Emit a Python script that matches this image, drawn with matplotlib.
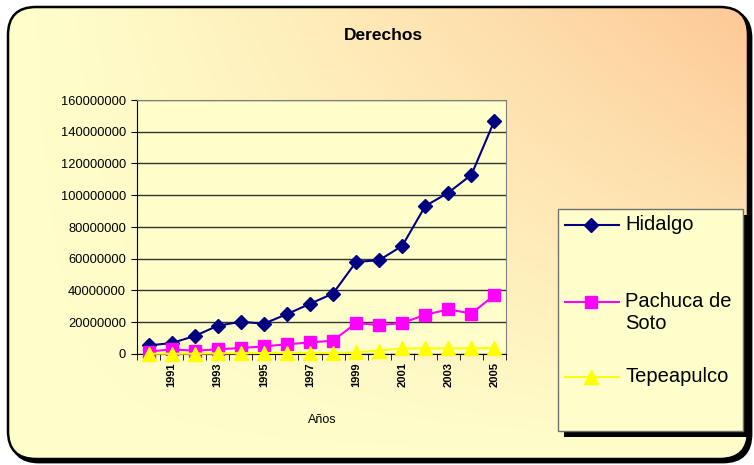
import numpy as np
import matplotlib.pyplot as plt
from matplotlib.patches import FancyBboxPatch, Rectangle
from matplotlib.lines import Line2D

plt.rcParams["font.family"] = ["Liberation Sans", "DejaVu Sans"]

years = ["1990", "1991", "1992", "1993", "1994", "1995", "1996", "1997",
         "1998", "1999", "2000", "2001", "2002", "2003", "2004", "2005"]
hidalgo = [5.4e6, 6.9e6, 11.3e6, 17.8e6, 20.3e6, 19.1e6, 25.1e6, 31.6e6,
           38.1e6, 58.0e6, 59.1e6, 68.1e6, 93.2e6, 101.6e6, 112.9e6, 147.0e6]
pachuca = [1.5e6, 2.9e6, 2.1e6, 2.9e6, 3.8e6, 4.8e6, 6.1e6, 7.3e6,
           8.4e6, 19.5e6, 18.2e6, 19.5e6, 24.7e6, 28.1e6, 25.5e6, 37.1e6]
tepeapulco = [0.2e6, 0.2e6, 0.2e6, 0.4e6, 0.5e6, 0.6e6, 0.7e6, 0.6e6,
              0.5e6, 1.0e6, 2.2e6, 3.5e6, 3.6e6, 3.6e6, 3.6e6, 3.7e6]
names = ["Hidalgo", "Pachuca de\nSoto", "Tepeapulco"]
yticks = [0, 20000000, 40000000, 60000000, 80000000, 100000000,
          120000000, 140000000, 160000000]

navy = "#000080"
magenta = "#FF00FF"
yellow = "#FFFF00"
paper = "#FFFFCC"

W, H = 754, 465
fig = plt.figure(figsize=(W / 100, H / 100), dpi=100)
fig.patch.set_facecolor("white")

# background panel: rounded frame with gradient fill
bg = fig.add_axes([0, 0, 1, 1])
bg.set_xlim(0, W)
bg.set_ylim(0, H)
bg.axis("off")
shadow = FancyBboxPatch((11, 3), 740, 452, boxstyle="round,pad=0,rounding_size=28",
                        facecolor="black", edgecolor="black", lw=2)
bg.add_patch(shadow)
frame = FancyBboxPatch((8, 6), 740, 452, boxstyle="round,pad=0,rounding_size=28",
                       facecolor="none", edgecolor="black", lw=1.8, zorder=3)
bg.add_patch(frame)
xx, yy = np.meshgrid(np.linspace(0, 1, 300), np.linspace(0, 1, 200))
t = np.clip(xx, 0, 1) ** 1.2 * np.clip(yy, 0, 1) ** 0.9
c0 = np.array([255, 255, 204]) / 255
c1 = np.array([253, 200, 150]) / 255
grad = c0 + (c1 - c0) * t[..., None]
im = bg.imshow(grad, extent=[8, 748, 6, 458], origin="lower", aspect="auto", zorder=2)
clip = FancyBboxPatch((8, 6), 740, 452, boxstyle="round,pad=0,rounding_size=28",
                      facecolor="none", edgecolor="none", transform=bg.transData)
bg.add_patch(clip)
im.set_clip_path(clip)

fig.text(383 / W, 1 - 35 / H, "Derechos", ha="center", va="center",
         fontsize=12.5, fontweight="bold")

# plot area
ax = fig.add_axes([137 / W, 1 - 354 / H, 369 / W, 254 / H])
ax.set_facecolor(paper)
x = np.arange(len(years))
ax.plot(x, hidalgo, color=navy, lw=1.5, marker="D", ms=7, mec=navy, zorder=3, clip_on=False)
ax.plot(x, pachuca, color=magenta, lw=1.5, marker="s", ms=8, mec=magenta, zorder=4, clip_on=False)
ax.plot(x, tepeapulco, color=yellow, lw=1.5, marker="^", ms=10, mec=yellow, zorder=5, clip_on=False)
ax.set_xlim(-0.5, len(years) - 0.5)
ax.set_ylim(0, 160000000)
ax.set_yticks(yticks)
ax.set_yticklabels([str(v) for v in yticks], fontsize=9.3)
ax.yaxis.grid(True, color="#333333", lw=1)
ax.set_axisbelow(True)
for s in ["top", "right"]:
    ax.spines[s].set_color("#808080")
ax.spines["left"].set_color("black")
ax.spines["bottom"].set_color("black")
ax.tick_params(axis="y", direction="out", length=4, pad=4)
ax.set_xticks(np.arange(-0.5, len(years), 1), minor=True)
ax.tick_params(axis="x", which="minor", direction="out", length=4)
ax.set_xticks(x[1::2])
ax.set_xticklabels(years[1::2], rotation=90, fontsize=8, fontweight="bold")
ax.tick_params(axis="x", which="major", length=0, pad=6)
fig.text(322 / W, 1 - 420 / H, "Años", ha="center", va="center", fontsize=9)

# legend box with shadow
lg = fig.add_axes([0, 0, 1, 1], zorder=10)
lg.set_xlim(0, W)
lg.set_ylim(H, 0)
lg.axis("off")
lg.add_patch(Rectangle((564, 215), 185, 222, facecolor="black", edgecolor="none"))
lg.add_patch(Rectangle((558, 209), 185, 222, facecolor=paper, edgecolor="#707070", lw=1))
styles = [(navy, "D", 7), (magenta, "s", 8), (yellow, "^", 10)]
rows = [225, 302, 377]
for (col, mk, ms), name, yr in zip(styles, names, rows):
    lg.add_line(Line2D([565, 619], [yr, yr], color=col, lw=1.5))
    lg.add_line(Line2D([591], [yr], color=col, marker=mk, ms=ms, mec=col))
    lg.text(625, yr - 10, name, ha="left", va="top", fontsize=14.5, linespacing=1.2)

fig.savefig("out.png", dpi=100)
